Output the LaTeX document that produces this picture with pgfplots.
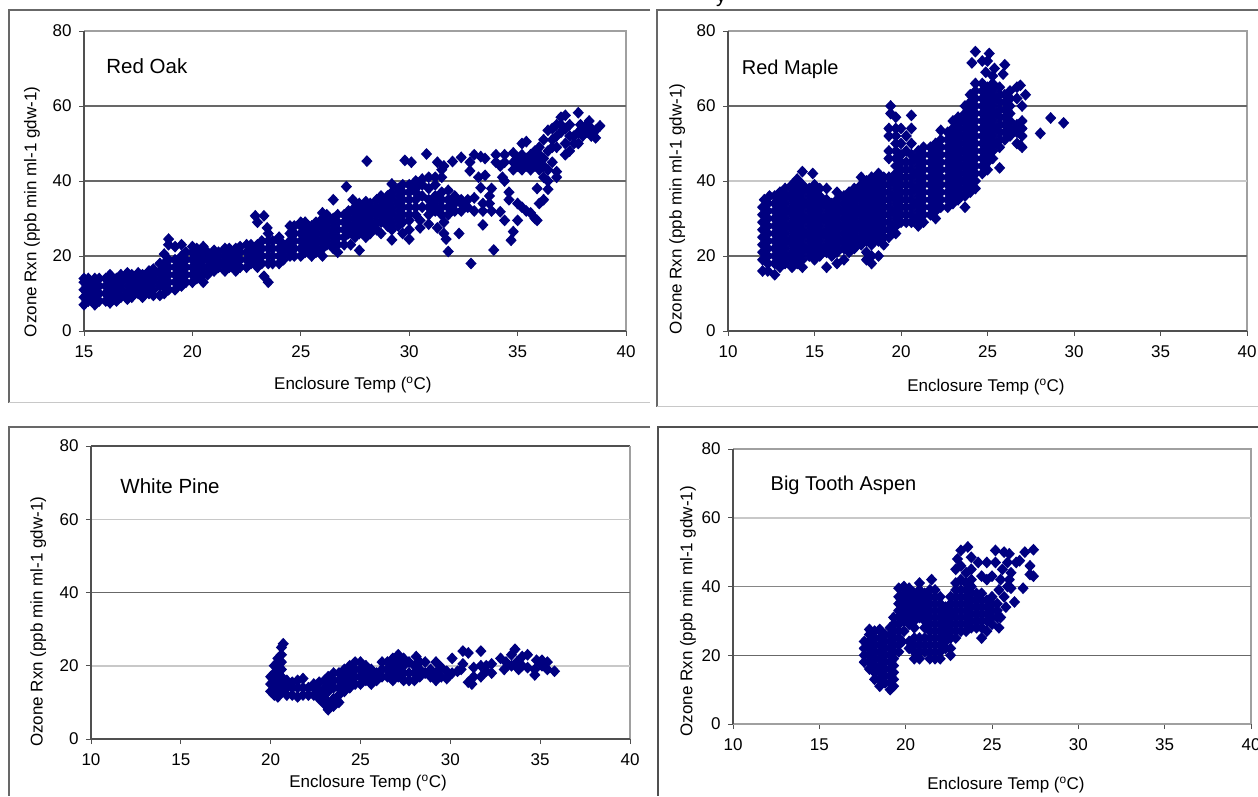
\documentclass[border=0pt]{standalone}
\usepackage{fontspec}
\setmainfont{Liberation Sans}
\usepackage{pgfplots}
\pgfplotsset{compat=1.18}
\definecolor{navy}{HTML}{000080}
\definecolor{gd}{HTML}{686868}
\definecolor{gl}{HTML}{C8C8C8}
\definecolor{ax}{HTML}{505050}
\definecolor{ab}{HTML}{A0A0A0}
\newcommand{\fs}{\fontsize{17}{20}\selectfont}
\pgfplotsset{panel/.style={
  scale only axis, anchor=south west, clip=false,
  ymin=0, ymax=80, ytick={0,20,40,60,80}, xmax=40,
  axis line style={draw=none}, tick style={draw=ax, line width=.8pt},
  tick align=outside, major tick length=5pt, xtick pos=bottom, ytick pos=left,
  tick label style={font=\fs}, /pgf/number format/assume math mode=true,
  xlabel={Enclosure Temp (\textsuperscript{o}C)}, ylabel={Ozone Rxn (ppb min ml-1 gdw-1)},
  label style={font=\fs, anchor=center},
  xticklabel style={yshift=-6pt}, yticklabel style={xshift=-4pt},
},
dots/.style={only marks, mark=diamond*, mark size=5pt, line width=1.3pt, forget plot,
  mark options={fill=navy, draw=navy, xscale=1.25}},
ln/.style={no marks, forget plot, line width=1.5pt}}
\begin{document}
\begin{tikzpicture}[x=1pt,y=1pt]
\useasboundingbox (0,0) rectangle (1258,796);
\fill[white] (0,0) rectangle (1258,796);
\draw[gd,line width=1.1pt] (650,786)--(9,786)--(9,393);
\draw[gl,line width=1pt] (9,393)--(650,393);
\draw[gd,line width=1.1pt] (1258,786)--(657,786)--(657,389);
\draw[gl,line width=1pt] (657,389)--(1258,389);
\draw[gd,line width=1.1pt] (650,369)--(9,369)--(9,0);
\draw[ax,line width=1.1pt] (1258,369)--(658,369)--(658,0);
\node[anchor=base,font=\fontsize{20}{22}\selectfont] at (721,793) {y};
% ---------- Red Oak
\begin{axis}[panel, at={(84pt,465pt)}, width=542pt, height=300pt, xmin=15, xtick={15,20,25,30,35,40},
 xlabel style={at={(axis description cs:0.496,-0.18)}}, ylabel style={at={(axis description cs:-0.096,0.397)}}]
\addplot[ln,ab] coordinates {(15,80)(40,80)(40,0)};
\addplot[ln,gd] coordinates {(15,60)(40,60)};
\addplot[ln,gd] coordinates {(15,40)(40,40)};
\addplot[ln,gd] coordinates {(15,20)(40,20)};
\addplot[ln,ax] coordinates {(15,80)(15,0)(40,0)};
\addplot[dots] coordinates {
(15,7)(15,9)(15,11)(15,13)(15,14)(15.2,8)(15.2,10)(15.2,12)(15.2,14)(15.5,7)(15.5,9)(15.5,11)(15.5,13)(15.5,14)
(15.7,8)(15.7,10)(15.7,12)(15.7,14)(16,8)(16,10)(16,12)(16,14)(16.2,7.5)(16.2,9)(16.2,11)(16.2,13)(16.2,15)
(16.5,8)(16.5,10)(16.5,12)(16.5,14)(16.7,9)(16.7,11)(16.7,13)(16.7,15)(17,8.5)(17,10)(17,12)(17,14)(17,15.5)
(17.2,9)(17.2,11)(17.2,13)(17.2,15)(17.5,10)(17.5,12)(17.5,14)(17.5,15.5)(17.7,9)(17.7,11)(17.7,13)(17.7,15)
(18,10)(18,12)(18,14)(18,16)(18.2,9.5)(18.2,11)(18.2,13)(18.2,15)(18.2,16.5)(18.5,9.5)(18.5,12)(18.5,14)(18.5,16)(18.5,18)
(18.7,10)(18.7,12)(18.7,14)(18.7,16)(18.7,18)(18.7,20.5)(18.9,11)(18.9,13)(18.9,15)(18.9,17)(18.9,19)(18.9,23)(18.9,24.5)
(19.2,11)(19.2,13)(19.2,15)(19.2,17)(19.2,19)(19.2,22.5)(19.5,12)(19.5,14)(19.5,16)(19.5,18)(19.5,20)(19.5,23)
(19.7,13)(19.7,15)(19.7,17)(19.7,19)(19.7,21)(20,13)(20,15)(20,17)(20,19)(20,21)(20,22.5)
(20.2,14)(20.2,16)(20.2,18)(20.2,20)(20.2,22)(20.5,13)(20.5,15)(20.5,17)(20.5,19)(20.5,21)(20.5,22.5)
(20.7,15)(20.7,17)(20.7,19)(20.7,21)(21,16)(21,18)(21,20)(21,21.5)(21.2,17)(21.2,19)(21.2,21)
(21.5,16)(21.5,18)(21.5,20)(21.5,22)(21.7,17)(21.7,19)(21.7,21)(21.7,22)(22,16)(22,18)(22,20)(22,22)
(22.2,17)(22.2,19)(22.2,21)(22.2,22.5)(22.5,17)(22.5,19)(22.5,21)(22.5,23)(22.7,18)(22.7,20)(22.7,22)(22.7,23)
(23,17)(23,19)(23,21)(23,23)(22.9,30.7)(23,29)(23.3,30.7)(23.2,18)(23.2,20)(23.2,22)(23.2,24)(23.3,14.6)(23.5,13)
(23.5,18)(23.5,20)(23.5,22)(23.5,24)(23.5,26)(23.45,27.5)(23.7,18)(23.7,20)(23.7,22)(23.7,24)(24,18)(24,20)(24,22)(24,24)(24,25)
(24.2,19)(24.2,21)(24.2,23)(24.5,20)(24.5,22)(24.5,24)(24.5,26)(24.5,28)(24.7,20)(24.7,22)(24.7,24)(24.7,26)(24.7,28)
(25,20)(25,22)(25,24)(25,26)(25,28)(25,29)(25.2,21)(25.2,23)(25.2,25)(25.2,27)(25.2,29)(25.5,20)(25.5,22)(25.5,24)(25.5,26)(25.5,28)
(25.7,21)(25.7,23)(25.7,25)(25.7,27)(25.7,29)(26,20)(26,22)(26,24)(26,26)(26,28)(26,30)(26,31.5)(26.2,23)(26.2,25)(26.2,27)(26.2,29)(26.2,31)
(26.5,22)(26.5,24)(26.5,26)(26.5,28)(26.5,30)(26.5,35)(26.7,21)(26.7,23)(26.7,25)(26.7,27)(26.7,29)(26.7,31)
(27,23)(27,25)(27,27)(27,29)(27,31)(27.1,38.5)(27.2,26)(27.2,28)(27.2,30)(27.2,32)(27.3,23)(27.5,25)(27.5,27)(27.5,29)(27.5,31)(27.5,33)(27.4,35)
(27.7,21.5)(27.7,26)(27.7,28)(27.7,30)(27.7,32)(27.7,34)(28,25)(28,27)(28,29)(28,31)(28,33)(28,34.5)(28.05,45.3)
(28.2,26)(28.2,28)(28.2,30)(28.2,32)(28.2,34)(28.5,27)(28.5,29)(28.5,31)(28.5,33)(28.5,35)(28.7,26)(28.7,29)(28.7,31)(28.7,33)(28.7,35)(28.7,36)
(29,28)(29,30)(29,32)(29,34)(29,36)(29.2,24.3)(29.2,27)(29.2,29)(29.2,31)(29.2,33)(29.2,35)(29.2,37)(29.2,39.2)
(29.5,28)(29.5,30)(29.5,32)(29.5,34)(29.5,36)(29.5,38)(29.7,26)(29.7,29)(29.7,31)(29.7,33)(29.7,35)(29.7,37)(29.7,39)(29.8,45.5)
(30,24.5)(30,27)(30,29.5)(30,31)(30,33)(30,35)(30,37)(30,39)(30.1,45)(30.3,31)(30.3,33)(30.3,35)(30.3,37)(30.3,38)(30.3,40)
(30.5,27.5)(30.5,29.5)(30.6,33)(30.6,36)(30.6,39)(30.6,40.5)(30.8,47.2)(30.9,28.5)(30.9,31)(30.9,33)(30.9,35)(30.9,38)(30.9,41)
(31.2,32)(31.2,34)(31.2,36)(31.2,39)(31.2,41)(31.3,45)(31.3,27.5)(31.5,31)(31.5,33)(31.5,35)(31.5,37)(31.5,41)(31.5,43)(31.6,44)(31.6,26)(31.6,29)
(31.7,24.5)(31.8,21.2)(31.8,31)(31.8,33)(31.8,35)(31.8,37.5)(32,45.2)(32.1,32)(32.1,34)(32.1,36)(32.3,26)(32.4,32)(32.4,34)(32.4,35)(32.4,46.3)
(32.7,33)(32.7,35)(32.8,45)(32.8,42.7)(32.85,18)(33,47)(33,32)(33,35.5)(33.2,41)(33.3,38.2)(33.3,46.5)(33.5,46)(33.5,41.5)(33.4,34)(33.4,32)(33.4,28.3)
(33.7,36)(33.8,38)(33.7,34)(33.8,32)(33.9,21.6)(34,47)(34,45)(34.2,44)(34.2,31.8)(34.3,41)(34.4,47)(34.4,45)(34.4,40)(34.4,29.5)(34.6,37)(34.6,35)(34.8,47.5)(34.8,45)(34.8,43)(34.7,24.2)(34.8,26.5)
(35,44)(35,46)(35,34)(35,29.5)(35.2,47)(35.2,50)(35.2,43)(35.2,45)(35.2,33)(35.4,44)(35.4,46)(35.4,50.5)(35.4,32)(35.6,43)(35.6,45)(35.6,47)(35.6,31.5)(35.8,44)(35.8,46)(35.8,48)(35.8,30)(35.9,29.5)(35.9,38)
(36,43)(36,45)(36,47)(36,49)(36,34)(36.2,41)(36.2,44)(36.2,46)(36.2,51)(36.2,35)(36.4,40)(36.4,43)(36.4,48)(36.4,53.5)(36.4,37.8)(36.6,45)(36.6,49)(36.6,51)(36.6,54)
(36.8,41)(36.8,42.5)(36.8,49)(36.8,52)(36.8,55)(37,53)(37,55)(37,57)(37.2,47)(37.2,50)(37.2,54)(37.2,57.5)(37.4,48)(37.4,52)(37.4,55)(37.6,50)(37.6,52)(37.8,50)(37.8,53)(37.8,58.2)(37.9,55)
(38,52)(38,54)(38.2,53)(38.2,55)(38.3,56)(38.4,52)(38.4,54)(38.6,51.5)(38.6,53.5)(38.8,54.7)};
\node[font=\fontsize{20.5}{22}\selectfont] at (axis cs:17.9,70.7) {Red Oak};
\end{axis}
% ---------- Red Maple
\begin{axis}[panel, at={(728pt,465pt)}, width=519pt, height=300pt, xmin=10, xtick={10,15,20,25,30,35,40},
 xlabel style={at={(axis description cs:0.497,-0.187)}}, ylabel style={at={(axis description cs:-0.098,0.407)}}]
\addplot[ln,ab] coordinates {(10,80)(40,80)(40,0)};
\addplot[ln,gd] coordinates {(10,60)(40,60)};
\addplot[ln,gl] coordinates {(10,40)(40,40)};
\addplot[ln,gd] coordinates {(10,20)(40,20)};
\addplot[ln,ax] coordinates {(10,80)(10,0)(40,0)};
\addplot[dots] coordinates {
(12,16)(12,19)(12,21)(12,23)(12,25)(12,27)(12,29)(12,31)(12,33)(12.1,35)
(12.3,16)(12.3,18)(12.3,20)(12.3,22)(12.3,24)(12.3,26)(12.3,28)(12.3,30)(12.3,32)(12.3,34)(12.4,36)
(12.7,15)(12.7,18)(12.7,20)(12.7,22)(12.7,24)(12.7,26)(12.7,28)(12.7,30)(12.7,32)(12.7,34)(12.7,36)
(13,17)(13,19)(13,21)(13,23)(13,25)(13,27)(13,29)(13,31)(13,33)(13,35)(13,37)
(13.3,18)(13.3,20)(13.3,22)(13.3,24)(13.3,26)(13.3,28)(13.3,30)(13.3,32)(13.3,34)(13.3,36)(13.3,38)
(13.7,17)(13.7,19)(13.7,21)(13.7,23)(13.7,25)(13.7,27)(13.7,29)(13.7,31)(13.7,33)(13.7,35)(13.7,37)(13.7,39)
(14,18)(14,20)(14,22)(14,24)(14,26)(14,28)(14,30)(14,32)(14,34)(14,36)(14,38)(14,40.5)
(14.3,17)(14.3,19)(14.3,21)(14.3,23)(14.3,25)(14.3,27)(14.3,29)(14.3,31)(14.3,33)(14.3,35)(14.3,37)(14.3,39)(14.3,42.5)
(14.7,20)(14.7,22)(14.7,24)(14.7,26)(14.7,28)(14.7,30)(14.7,32)(14.7,34)(14.7,36)(14.7,38)
(15,19)(15,21)(15,23)(15,25)(15,27)(15,29)(15,31)(15,33)(15,35)(15,37)(15,39)(14.9,42)
(15.3,20)(15.3,22)(15.3,24)(15.3,26)(15.3,28)(15.3,30)(15.3,32)(15.3,34)(15.3,36)(15.3,38)
(15.7,17)(15.7,21)(15.7,23)(15.7,25)(15.7,27)(15.7,29)(15.7,31)(15.7,33)(15.7,35)(15.7,38)
(16,20)(16,22)(16,24)(16,26)(16,28)(16,30)(16,32)(16,34)
(16.3,18)(16.3,21)(16.3,23)(16.3,25)(16.3,27)(16.3,29)(16.3,31)(16.3,33)(16.3,35)(16.3,37)
(16.7,19)(16.7,22)(16.7,24)(16.7,26)(16.7,28)(16.7,30)(16.7,32)(16.7,34)(16.7,36)
(17,21)(17,23)(17,25)(17,27)(17,29)(17,31)(17,33)(17,35)(17,37)
(17.3,22)(17.3,24)(17.3,26)(17.3,28)(17.3,30)(17.3,32)(17.3,34)(17.3,36)(17.3,38)
(17.7,23)(17.7,25)(17.7,27)(17.7,29)(17.7,31)(17.7,33)(17.7,35)(17.7,37)(17.7,39)(17.7,41)
(18,19)(18,21)(18,24)(18,26)(18,28)(18,30)(18,32)(18,34)(18,36)(18,38)(18,40)
(18.3,18)(18.3,20)(18.3,23)(18.3,25)(18.3,27)(18.3,29)(18.3,31)(18.3,33)(18.3,35)(18.3,37)(18.3,39)(18.3,41)
(18.7,20)(18.7,24)(18.7,26)(18.7,28)(18.7,30)(18.7,32)(18.7,34)(18.7,36)(18.7,38)(18.7,40)(18.7,42)
(19,23)(19,25)(19,27)(19,29)(19,31)(19,33)(19,35)(19,37)(19,39)(19,41)
(19.3,25)(19.3,27)(19.3,29)(19.3,31)(19.3,33)(19.3,35)(19.3,37)(19.3,39)(19.3,41)(19.3,46)(19.3,48)(19.3,52)(19.3,54)(19.4,58)(19.4,60)
(19.7,26)(19.7,28)(19.7,30)(19.7,32)(19.7,34)(19.7,36)(19.7,38)(19.7,40)(19.7,42)(19.7,44)(19.7,46)(19.7,48)(19.7,50)(19.7,52)(19.7,54)(19.7,57)
(20,29)(20,31)(20,33)(20,35)(20,37)(20,39)(20,41)(20,43)(20,45)(20,47)(20,50)(20,54)
(20.3,29)(20.3,31)(20.3,33)(20.3,35)(20.3,37)(20.3,39)(20.3,41)(20.3,43)(20.3,45)(20.3,48)(20.3,52)
(20.6,29)(20.6,31)(20.6,33)(20.6,35)(20.6,37)(20.6,39)(20.6,41)(20.6,43)(20.6,45)(20.6,47)(20.6,50)(20.6,54)(20.6,57.5)
(21,28)(21,30)(21,32)(21,34)(21,36)(21,38)(21,40)(21,42)(21,44)(21,46)(21,48)
(21.3,29)(21.3,31)(21.3,33)(21.3,35)(21.3,37)(21.3,39)(21.3,41)(21.3,43)(21.3,45)(21.3,47)(21.3,49)
(21.7,31)(21.7,33)(21.7,35)(21.7,37)(21.7,39)(21.7,41)(21.7,43)(21.7,45)(21.7,47)(21.7,49)
(22,30)(22,32)(22,34)(22,36)(22,38)(22,40)(22,42)(22,44)(22,46)(22,48)(22,50)
(22.3,33)(22.3,35)(22.3,37)(22.3,39)(22.3,41)(22.3,43)(22.3,45)(22.3,47)(22.3,49)(22.3,51)(22.3,53.5)
(22.7,33)(22.7,35)(22.7,37)(22.7,39)(22.7,41)(22.7,43)(22.7,45)(22.7,47)(22.7,49)(22.7,51)(22.7,53)
(23,34)(23,36)(23,38)(23,40)(23,42)(23,44)(23,46)(23,48)(23,50)(23,52)(23,54)(23,56)
(23.3,35)(23.3,37)(23.3,39)(23.3,41)(23.3,43)(23.3,45)(23.3,47)(23.3,49)(23.3,51)(23.3,53)(23.3,55)(23.3,57)
(23.7,33)(23.7,36)(23.7,38)(23.7,40)(23.7,42)(23.7,44)(23.7,46)(23.7,48)(23.7,50)(23.7,52)(23.7,54)(23.7,56)(23.7,58)(23.7,60)
(24,37)(24,39)(24,41)(24,43)(24,45)(24,47)(24,49)(24,51)(24,53)(24,55)(24,57)(24,59)(24,61)(24,63)
(24.3,38)(24.3,40)(24.3,42)(24.3,44)(24.3,46)(24.3,48)(24.3,50)(24.3,52)(24.3,54)(24.3,56)(24.3,58)(24.3,60)(24.3,62)(24.3,64)(24.3,66)(24.1,71.5)(24.3,74.5)
(24.7,42)(24.7,44)(24.7,46)(24.7,48)(24.7,50)(24.7,52)(24.7,54)(24.7,56)(24.7,58)(24.7,60)(24.7,62)(24.7,64)(24.7,66)(24.7,72)
(25,43)(25,45)(25,47)(25,49)(25,51)(25,53)(25,55)(25,57)(25,59)(25,61)(25,63)(25,65)(24.9,69)(25,72)(25.1,74)
(25.3,46)(25.3,48)(25.3,50)(25.3,52)(25.3,54)(25.3,56)(25.3,58)(25.3,60)(25.3,62)(25.3,64)(25.3,66)(25.4,70)(25.3,68)
(25.7,43.5)(25.7,49)(25.7,51)(25.7,53)(25.7,55)(25.7,57)(25.7,59)(25.7,61)(25.7,63)(25.7,65)(26,71)(25.9,68.5)
(26,51)(26,53)(26,55)(26,57)(26,59)(26,61)(26,63)
(26.3,52)(26.3,54)(26.3,56)(26.3,58)(26.3,60)(26.3,62)(26.3,64)
(26.7,50)(26.7,53)(26.7,55)(26.7,62)(26.7,65)(26.9,65.5)(26.9,49.5)
(27,49)(27,52)(27,54)(27,56)(27,60)(27.2,63)(28.05,52.7)(28.65,56.8)(29.4,55.5)};
\node[font=\fontsize{20}{22}\selectfont] at (axis cs:13.6,69.7) {Red Maple};
\end{axis}
% ---------- White Pine
\begin{axis}[panel, at={(91pt,57pt)}, width=539pt, height=293pt, xmin=10, xtick={10,15,20,25,30,35,40},
 xlabel style={at={(axis description cs:0.514,-0.15)}}, ylabel style={at={(axis description cs:-0.098,0.40)}}]
\addplot[ln,ax] coordinates {(10,80)(40,80)};
\addplot[ln,ab] coordinates {(40,80)(40,0)};
\addplot[ln,gl] coordinates {(10,60)(40,60)};
\addplot[ln,gd] coordinates {(10,40)(40,40)};
\addplot[ln,gl] coordinates {(10,20)(40,20)};
\addplot[ln,ax] coordinates {(10,80)(10,0)(40,0)};
\addplot[dots] coordinates {
(20,13)(20,15)(20,17)(20.2,12)(20.2,14)(20.2,16)(20.2,18)(20.2,20)(20.4,11.5)(20.4,14)(20.4,16)(20.4,18)(20.4,20)(20.4,22)
(20.6,13)(20.6,15)(20.6,17)(20.6,19)(20.6,21)(20.6,23)(20.6,25)(20.7,16)(20.7,26)(20.9,12)(20.9,14)(20.9,16)(21.2,12)(21.2,14)(21.2,15.5)
(21.5,11.5)(21.5,14)(21.5,16)(21.8,12)(21.8,14)(21.8,16.5)(22.1,12)(22.1,14)(22.4,12)(22.4,14)(22.4,15)(22.7,11)(22.7,13)(22.7,15.5)
(23,9.5)(23,12)(23,14)(23,16)(23.2,8)(23.2,10)(23.2,13)(23.2,15)(23.2,17)(23.5,9)(23.5,11)(23.5,14)(23.5,16)(23.5,18)
(23.8,10)(23.8,12)(23.8,14)(23.8,16)(23.8,18)(24.1,13)(24.1,15)(24.1,17)(24.1,19)(24.4,14)(24.4,16)(24.4,18)(24.4,20)
(24.7,15)(24.7,17)(24.7,19)(24.7,21)(25,15)(25,17)(25,19)(25,21)(25.3,16)(25.3,18)(25.3,20)(25.6,15)(25.6,17)(25.6,19)
(25.9,16)(25.9,18)(26.2,17)(26.2,19)(26.2,21)(26.5,17)(26.5,19)(26.5,21)(26.8,16)(26.8,18)(26.8,20)(26.8,22)
(27.1,17)(27.1,19)(27.1,21)(27.1,23)(27.4,16)(27.4,18)(27.4,20)(27.4,22)(27.7,16)(27.7,18)(27.7,21)(28,16)(28,18)(28,20)(28.1,22.5)
(28.3,17)(28.3,19)(28.3,21)(28.6,18)(28.6,21)(28.9,17)(28.9,19)(29.2,16)(29.2,18)(29.2,21)(29.5,17)(29.5,19.5)(29.8,16.5)(29.8,18.5)
(30.1,18)(30.1,22)(30.4,18.5)(30.6,19)(30.7,20.5)(30.7,24)(31,15.5)(31,23.5)(31.2,15)(31.3,17)(31.3,19.5)(31.7,17)(31.7,20)(31.7,24)
(32,18.5)(32,20)(32.3,20.5)(32.3,18)(32.8,22)(33,19)(33.1,21)(33.4,20)(33.4,23)(33.6,24.5)(33.7,21)(33.8,19)(34,20)(34,22.5)
(34.3,19.5)(34.3,23)(34.7,17.5)(34.7,19)(34.8,21.5)(35.1,20)(35.1,21.5)(35.4,19)(35.4,21)(35.8,18.5)};
\node[font=\fontsize{20.5}{22}\selectfont] at (axis cs:14.4,69) {White Pine};
\end{axis}
% ---------- Big Tooth Aspen
\begin{axis}[panel, at={(733pt,72pt)}, width=518pt, height=275pt, xmin=10, xtick={10,15,20,25,30,35,40},
 xlabel style={at={(axis description cs:0.527,-0.222)}}, ylabel style={at={(axis description cs:-0.087,0.41)}}]
\addplot[ln,ab] coordinates {(10,80)(40,80)(40,0)};
\addplot[ln,gl] coordinates {(10,60)(40,60)};
\addplot[ln,gd!80] coordinates {(10,40)(40,40)};
\addplot[ln,gd] coordinates {(10,20)(40,20)};
\addplot[ln,ab] coordinates {(10,0)(40,0)};
\addplot[ln,ax] coordinates {(10,80)(10,0)};
\addplot[dots] coordinates {
(17.6,18)(17.6,20)(17.6,22)(17.6,24)(17.9,16)(17.9,18)(17.9,20)(17.9,22)(17.9,24)(17.9,26)(17.9,27.5)
(18.2,13)(18.2,15)(18.2,17)(18.2,19)(18.2,21)(18.2,23)(18.2,25)(18.2,27)(18.5,11)(18.5,13)(18.5,15)(18.5,17)(18.5,19)(18.5,21)(18.5,23)(18.5,25)(18.5,27.5)
(18.8,12)(18.8,14)(18.8,16)(18.8,18)(18.8,20)(18.8,22)(18.8,24)(18.8,26)(19.1,10)(19.1,12)(19.1,14)(19.1,16)(19.1,18)(19.1,20)(19.1,22)(19.1,24)(19.1,26)(19.1,28)
(19.3,11)(19.3,13)(19.3,15)(19.3,17)(19.3,19)(19.3,21)(19.3,23)(19.3,25)(19.3,27)(19.3,29)(19.3,31)
(19.6,21)(19.6,23)(19.6,25)(19.6,27)(19.6,29)(19.6,31)(19.6,33)(19.6,35)(19.6,37)(19.6,39.5)(19.9,30)(19.9,32)(19.9,34)(19.9,36)(19.9,38)(19.9,40)(19.9,27)(19.8,24)
(20.2,22)(20.2,24)(20.2,29)(20.2,31)(20.2,33)(20.2,35)(20.2,37)(20.2,39.5)(20.5,19)(20.5,21)(20.5,23)(20.5,25)(20.5,28)(20.5,30)(20.5,32)(20.5,34)(20.5,36)(20.5,38)
(20.8,19)(20.8,21)(20.8,23)(20.8,25)(20.8,31)(20.8,33)(20.8,35)(20.8,37)(20.8,39)(20.8,41)(21.1,21)(21.1,23)(21.1,25)(21.1,28)(21.1,30)(21.1,32)(21.1,34)(21.1,36)(21.1,38)
(21.4,19)(21.4,21)(21.4,23)(21.4,25)(21.4,27)(21.4,29)(21.4,31)(21.4,33)(21.4,35)(21.4,37)(21.4,39)(21.5,42)
(21.7,19)(21.7,21)(21.7,23)(21.7,25)(21.7,27)(21.7,29)(21.7,31)(21.7,33)(21.7,35)(21.7,37)(21.7,39)
(22,19)(22,21)(22,23)(22,25)(22,27)(22,29)(22,31)(22,33)(22,35)(22,37)(22.3,22)(22.3,24)(22.3,26)(22.3,28)(22.3,30)(22.3,32)(22.3,34)
(22.6,20)(22.6,22)(22.6,25)(22.6,27)(22.6,29)(22.6,31)(22.6,33)(22.6,35)(22.6,37)(22.9,25)(22.9,27)(22.9,29)(22.9,31)(22.9,33)(22.9,35)(22.9,37)(22.9,39)(22.9,41)(22.9,45)(23,48)
(23.2,27)(23.2,29)(23.2,31)(23.2,33)(23.2,35)(23.2,37)(23.2,39)(23.2,42)(23.2,46)(23.2,50.5)(23.5,27)(23.5,29)(23.5,31)(23.5,33)(23.5,35)(23.5,37)(23.5,39)(23.5,41)(23.5,44)(23.6,51.5)
(23.8,28)(23.8,30)(23.8,32)(23.8,34)(23.8,36)(23.8,38)(23.8,40)(23.8,42)(23.8,45)(23.8,48.5)(24.1,28)(24.1,30)(24.1,32)(24.1,34)(24.1,36)(24.1,38)(24.2,47)
(24.4,25)(24.4,28)(24.4,30)(24.4,32)(24.4,34)(24.4,36)(24.4,38)(24.4,43)(24.7,27)(24.7,30)(24.7,32)(24.7,34)(24.7,36)(24.7,42)(24.7,47)
(25,29)(25,31)(25,33)(25,35)(25,37)(25,43)(25.2,50.5)(25.2,47)(25.3,31)(25.3,33)(25.3,35)(25.4,28)(25.4,39)(25.5,42)(25.5,31)(25.6,45)(25.7,50)(25.7,37)(25.8,34)
(25.9,40)(25.9,47)(26,42)(26,49.5)(26.1,39.5)(26.1,44)(26.3,35.5)(26.4,47)(26.6,47.5)(26.8,39.5)(26.9,50)(27.2,46)(27.2,43.5)(27.4,50.7)(27.4,43)};
\node[font=\fontsize{20}{22}\selectfont] at (axis cs:16.4,69.5) {Big Tooth Aspen};
\end{axis}
\end{tikzpicture}
\end{document}
